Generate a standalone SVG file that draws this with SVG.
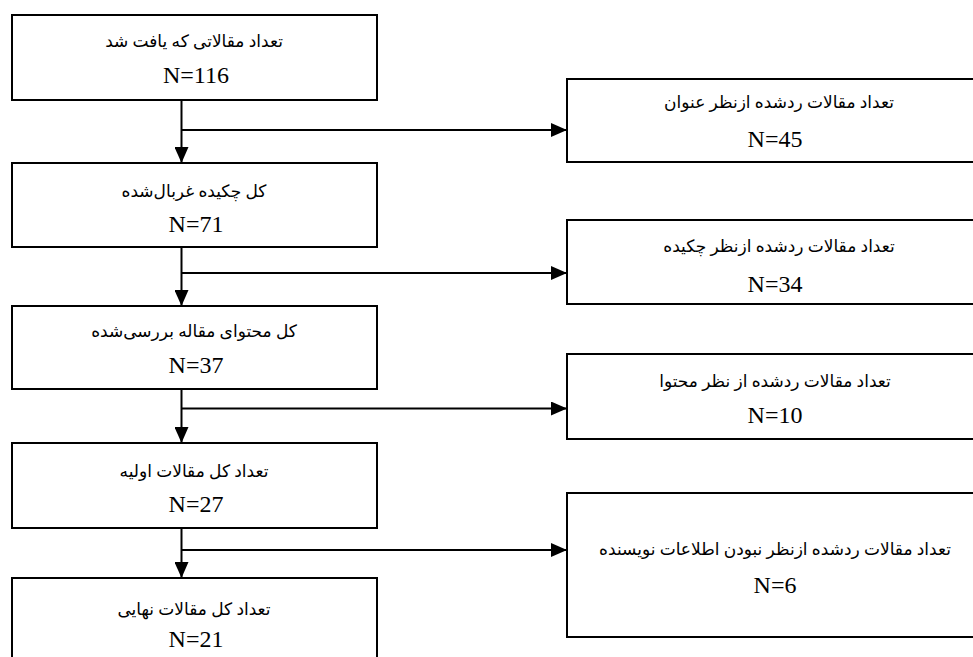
<svg xmlns="http://www.w3.org/2000/svg" width="973" height="657" viewBox="0 0 973 657">
<defs>
<style>
.box{fill:#fff;stroke:#000;stroke-width:2}
.fa{font-family:"Times New Roman","Liberation Serif","DejaVu Sans",serif;font-size:17px;text-anchor:middle;fill:#000}
.n{font-family:"Liberation Serif","Times New Roman",serif;font-size:24px;text-anchor:middle;fill:#000}
.ln{fill:none;stroke:#000;stroke-width:2}
</style>
<marker id="ah" markerWidth="16" markerHeight="14" refX="16" refY="7" orient="auto" markerUnits="userSpaceOnUse">
<path d="M0,0 L16,7 L0,14 Z" fill="#000"/>
</marker>
</defs>
<rect width="973" height="657" fill="#fff"/>
<g id="connectors">
<line class="ln" x1="181.5" y1="100" x2="181.5" y2="163" marker-end="url(#ah)"/>
<line class="ln" x1="181.5" y1="130" x2="567" y2="130" marker-end="url(#ah)"/>
<line class="ln" x1="181.5" y1="247" x2="181.5" y2="306" marker-end="url(#ah)"/>
<line class="ln" x1="181.5" y1="273" x2="567" y2="273" marker-end="url(#ah)"/>
<line class="ln" x1="181.5" y1="389" x2="181.5" y2="443" marker-end="url(#ah)"/>
<line class="ln" x1="181.5" y1="408.5" x2="567" y2="408.5" marker-end="url(#ah)"/>
<line class="ln" x1="181.5" y1="528" x2="181.5" y2="578" marker-end="url(#ah)"/>
<line class="ln" x1="181.5" y1="550" x2="567" y2="550" marker-end="url(#ah)"/>
</g>
<g id="n1">
<rect class="box" x="12" y="15" width="365" height="85"/>
<text class="fa" x="194" y="47" direction="rtl">تعداد مقالاتی که یافت شد</text>
<text class="n" x="196" y="83">N=116</text>
</g>
<g id="n2">
<rect class="box" x="12" y="163" width="365" height="84"/>
<text class="fa" x="194" y="197" direction="rtl">کل چکیده غربال‌شده</text>
<text class="n" x="196" y="232">N=71</text>
</g>
<g id="n3">
<rect class="box" x="12" y="306" width="365" height="83"/>
<text class="fa" x="194" y="337" direction="rtl">کل محتوای مقاله بررسی‌شده</text>
<text class="n" x="196" y="373">N=37</text>
</g>
<g id="n4">
<rect class="box" x="12" y="443" width="365" height="85"/>
<text class="fa" x="194" y="477" direction="rtl">تعداد کل مقالات اولیه</text>
<text class="n" x="196" y="512">N=27</text>
</g>
<g id="n5">
<rect class="box" x="12" y="578" width="365" height="90"/>
<text class="fa" x="194" y="615" direction="rtl">تعداد کل مقالات نهایی</text>
<text class="n" x="196" y="647">N=21</text>
</g>
<g id="r1">
<rect class="box" x="567" y="79" width="420" height="83"/>
<text class="fa" x="779" y="108" direction="rtl">تعداد مقالات ردشده ازنظر عنوان</text>
<text class="n" x="775" y="147">N=45</text>
</g>
<g id="r2">
<rect class="box" x="567" y="220" width="420" height="84"/>
<text class="fa" x="779" y="252" direction="rtl">تعداد مقالات ردشده ازنظر چکیده</text>
<text class="n" x="775" y="292">N=34</text>
</g>
<g id="r3">
<rect class="box" x="567" y="354" width="420" height="85"/>
<text class="fa" x="775" y="387" direction="rtl">تعداد مقالات ردشده از نظر محتوا</text>
<text class="n" x="775" y="423">N=10</text>
</g>
<g id="r4">
<rect class="box" x="567" y="493" width="420" height="144"/>
<text class="fa" x="775" y="555" direction="rtl">تعداد مقالات ردشده ازنظر نبودن اطلاعات نویسنده</text>
<text class="n" x="775" y="593">N=6</text>
</g>
</svg>
